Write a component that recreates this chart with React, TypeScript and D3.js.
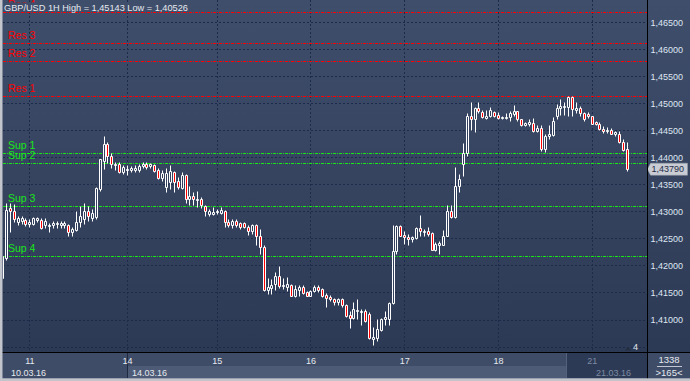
import React from "react";
import * as d3 from "d3";

const W = 690;
const H = 381;

const opens = [
  1.4177, 1.4214, 1.4306, 1.4301, 1.4281, 1.4282, 1.4284, 1.4276, 1.4277, 1.4284,
  1.4284, 1.4274, 1.4273, 1.4274, 1.4276, 1.4275, 1.4274, 1.4274, 1.4261, 1.4265,
  1.4280, 1.4286, 1.4301, 1.4288, 1.4289, 1.4342, 1.4394, 1.4425, 1.4403, 1.4386,
  1.4388, 1.4372, 1.4376, 1.4377, 1.4376, 1.4377, 1.4384, 1.4388, 1.4384, 1.4386,
  1.4376, 1.4361, 1.4345, 1.4354, 1.4372, 1.4357, 1.4343, 1.4367, 1.4322, 1.4328,
  1.4321, 1.4323, 1.4310, 1.4295, 1.4295, 1.4298, 1.4297, 1.4300, 1.4281, 1.4274,
  1.4282, 1.4279, 1.4279, 1.4271, 1.4264, 1.4275, 1.4254, 1.4234, 1.4155, 1.4159,
  1.4166, 1.4180, 1.4162, 1.4160, 1.4164, 1.4144, 1.4155, 1.4160, 1.4150, 1.4144,
  1.4153, 1.4160, 1.4157, 1.4145, 1.4142, 1.4138, 1.4132, 1.4138, 1.4127, 1.4108,
  1.4102, 1.4116, 1.4113, 1.4115, 1.4110, 1.4064, 1.4065, 1.4081, 1.4101, 1.4101,
  1.4130, 1.4226, 1.4273, 1.4256, 1.4252, 1.4249, 1.4250, 1.4269, 1.4261, 1.4263,
  1.4260, 1.4229, 1.4238, 1.4238, 1.4255, 1.4300, 1.4289, 1.4347, 1.4387, 1.4408,
  1.4476, 1.4470, 1.4491, 1.4483, 1.4473, 1.4477, 1.4483, 1.4478, 1.4472, 1.4472,
  1.4475, 1.4481, 1.4485, 1.4470, 1.4460, 1.4462, 1.4464, 1.4449, 1.4454, 1.4416,
  1.4440, 1.4441, 1.4477, 1.4491, 1.4493, 1.4493, 1.4512, 1.4488, 1.4491, 1.4482,
  1.4480, 1.4476, 1.4466, 1.4462, 1.4453, 1.4448, 1.4451, 1.4443, 1.4443, 1.4429,
  1.4416,
];

const closes = [
  1.4218, 1.4303, 1.4300, 1.4285, 1.4287, 1.4287, 1.4277, 1.4280, 1.4287, 1.4287,
  1.4270, 1.4282, 1.4275, 1.4279, 1.4279, 1.4279, 1.4279, 1.4261, 1.4268, 1.4280,
  1.4291, 1.4301, 1.4291, 1.4297, 1.4343, 1.4396, 1.4425, 1.4402, 1.4388, 1.4388,
  1.4372, 1.4383, 1.4379, 1.4380, 1.4380, 1.4384, 1.4388, 1.4382, 1.4387, 1.4375,
  1.4361, 1.4371, 1.4371, 1.4374, 1.4355, 1.4345, 1.4367, 1.4322, 1.4329, 1.4323,
  1.4323, 1.4311, 1.4300, 1.4301, 1.4298, 1.4301, 1.4303, 1.4280, 1.4274, 1.4282,
  1.4275, 1.4271, 1.4271, 1.4264, 1.4275, 1.4254, 1.4234, 1.4155, 1.4160, 1.4163,
  1.4180, 1.4162, 1.4164, 1.4166, 1.4144, 1.4157, 1.4160, 1.4149, 1.4144, 1.4153,
  1.4160, 1.4155, 1.4143, 1.4140, 1.4137, 1.4132, 1.4138, 1.4127, 1.4107, 1.4102,
  1.4120, 1.4118, 1.4116, 1.4098, 1.4065, 1.4067, 1.4083, 1.4101, 1.4104, 1.4131,
  1.4227, 1.4273, 1.4255, 1.4252, 1.4248, 1.4252, 1.4269, 1.4263, 1.4264, 1.4258,
  1.4229, 1.4240, 1.4242, 1.4255, 1.4300, 1.4289, 1.4347, 1.4359, 1.4408, 1.4476,
  1.4470, 1.4491, 1.4485, 1.4474, 1.4477, 1.4488, 1.4477, 1.4472, 1.4474, 1.4475,
  1.4482, 1.4486, 1.4470, 1.4459, 1.4464, 1.4465, 1.4449, 1.4454, 1.4416, 1.4440,
  1.4443, 1.4468, 1.4491, 1.4495, 1.4495, 1.4512, 1.4490, 1.4491, 1.4482, 1.4470,
  1.4476, 1.4462, 1.4462, 1.4453, 1.4448, 1.4451, 1.4444, 1.4446, 1.4428, 1.4414,
  1.4379,
];

const highs = [
  1.4221, 1.4316, 1.4316, 1.4314, 1.4292, 1.4292, 1.4288, 1.4285, 1.4290, 1.4290,
  1.4287, 1.4287, 1.4279, 1.4282, 1.4282, 1.4282, 1.4282, 1.4277, 1.4271, 1.4300,
  1.4310, 1.4316, 1.4310, 1.4305, 1.4345, 1.4397, 1.4439, 1.4428, 1.4408, 1.4391,
  1.4391, 1.4385, 1.4385, 1.4384, 1.4385, 1.4388, 1.4391, 1.4391, 1.4390, 1.4388,
  1.4380, 1.4377, 1.4380, 1.4386, 1.4375, 1.4363, 1.4372, 1.4369, 1.4347, 1.4335,
  1.4338, 1.4326, 1.4312, 1.4305, 1.4309, 1.4305, 1.4308, 1.4303, 1.4285, 1.4286,
  1.4285, 1.4281, 1.4280, 1.4274, 1.4277, 1.4277, 1.4268, 1.4238, 1.4176, 1.4175,
  1.4187, 1.4199, 1.4177, 1.4178, 1.4166, 1.4163, 1.4163, 1.4163, 1.4153, 1.4155,
  1.4163, 1.4163, 1.4159, 1.4149, 1.4145, 1.4139, 1.4139, 1.4139, 1.4129, 1.4116,
  1.4133, 1.4137, 1.4120, 1.4120, 1.4113, 1.4086, 1.4101, 1.4102, 1.4115, 1.4132,
  1.4275, 1.4275, 1.4274, 1.4263, 1.4258, 1.4255, 1.4271, 1.4293, 1.4268, 1.4271,
  1.4261, 1.4243, 1.4246, 1.4266, 1.4311, 1.4311, 1.4382, 1.4369, 1.4427, 1.4482,
  1.4503, 1.4493, 1.4503, 1.4488, 1.4488, 1.4493, 1.4486, 1.4483, 1.4477, 1.4482,
  1.4486, 1.4497, 1.4486, 1.4471, 1.4466, 1.4470, 1.4472, 1.4459, 1.4460, 1.4443,
  1.4459, 1.4474, 1.4499, 1.4508, 1.4502, 1.45143, 1.45143, 1.4503, 1.4495, 1.4483,
  1.4483, 1.4477, 1.4468, 1.4465, 1.4458, 1.4456, 1.4454, 1.4449, 1.4449, 1.4433,
  1.4428,
];

const lows = [
  1.4171, 1.4210, 1.4262, 1.4280, 1.4275, 1.4277, 1.4273, 1.4272, 1.4274, 1.4281,
  1.4268, 1.4269, 1.4262, 1.4270, 1.4270, 1.4270, 1.4269, 1.4254, 1.4254, 1.4264,
  1.4272, 1.4276, 1.4282, 1.4282, 1.4286, 1.4338, 1.4378, 1.4389, 1.4380, 1.4377,
  1.4371, 1.4370, 1.4368, 1.4372, 1.4372, 1.4372, 1.4380, 1.4378, 1.4380, 1.4372,
  1.4360, 1.4357, 1.4336, 1.4341, 1.4336, 1.4341, 1.4341, 1.4316, 1.4312, 1.4311,
  1.4308, 1.4306, 1.4292, 1.4292, 1.4293, 1.4295, 1.4295, 1.4271, 1.4272, 1.4270,
  1.4272, 1.4267, 1.4269, 1.4257, 1.4259, 1.4238, 1.4221, 1.4153, 1.4147, 1.4147,
  1.4155, 1.4159, 1.4156, 1.4153, 1.4143, 1.4141, 1.4143, 1.4147, 1.4143, 1.4143,
  1.4151, 1.4151, 1.4141, 1.4124, 1.4135, 1.4126, 1.4126, 1.4123, 1.4104, 1.4084,
  1.4101, 1.4101, 1.4090, 1.4096, 1.4064, 1.40526, 1.4061, 1.4079, 1.4089, 1.4089,
  1.4129, 1.4221, 1.4254, 1.4240, 1.4238, 1.4243, 1.4249, 1.4255, 1.4255, 1.4255,
  1.4229, 1.4227, 1.4221, 1.4237, 1.4254, 1.4287, 1.4287, 1.4335, 1.4365, 1.4403,
  1.4451, 1.4446, 1.4482, 1.4472, 1.4470, 1.4474, 1.4474, 1.4471, 1.4470, 1.4470,
  1.4468, 1.4477, 1.4468, 1.4458, 1.4458, 1.4458, 1.4446, 1.4446, 1.4412, 1.4409,
  1.4434, 1.4440, 1.4471, 1.4478, 1.4478, 1.4477, 1.4476, 1.4482, 1.4477, 1.4468,
  1.4472, 1.4461, 1.4460, 1.4451, 1.4445, 1.4445, 1.4443, 1.4440, 1.4427, 1.4412,
  1.4375,
];

const levelNames = ["Res 4", "Res 3", "Res 2", "Res 1", "Sup 1", "Sup 2", "Sup 3", "Sup 4"];
const levelValues = [1.46692, 1.46119, 1.45779, 1.45143, 1.44084, 1.43899, 1.43104, 1.42171];

const priceTicks = [1.41, 1.415, 1.42, 1.425, 1.43, 1.435, 1.44, 1.445, 1.45, 1.455, 1.46, 1.465];
const gridTicks = [1.405, 1.41, 1.415, 1.42, 1.425, 1.43, 1.435, 1.44, 1.445, 1.45, 1.455, 1.46, 1.465];

const dayLabels = ["11", "14", "15", "16", "17", "18", "21"];
const dayBars = [7, 32, 55, 79, 103, 127, 151];

const titleText = "GBP/USD 1H High = 1,45143 Low = 1,40526";
const lastPrice = 1.4379;
const totalBars = "1338";
const visibleBars = ">165<";
const shiftCount = "4";
const dateLeft = "10.03.16";
const dateMid = "14.03.16";
const dateRight = "21.03.16";

const FONT = "'Liberation Sans', Arial, sans-serif";

export default function App() {
  const x = d3.scaleLinear().domain([0, opens.length - 1]).range([2.5, 627.3]);
  const y = d3.scaleLinear().domain([1.41, 1.465]).range([320, 22.7]);
  const px = (v: number) => Math.floor(v) + 0.5;
  const fmt = (v: number) => d3.format(".5f")(v).replace(".", ",");

  const plotL = 3;
  const plotR = 647;
  const plotB = 352;

  const candles = opens.map((o, i) => {
    const c = closes[i];
    const cx = px(x(i));
    const top = px(y(Math.max(o, c)));
    const bot = px(y(Math.min(o, c)));
    const hy = px(y(highs[i]));
    const ly = px(y(lows[i]));
    const up = c >= o;
    return (
      <g key={i}>
        <line x1={cx} x2={cx} y1={hy} y2={ly} stroke="#ffffff" strokeWidth={1} />
        <path
          d={`M${cx - 1},${top}H${cx + 1}V${bot}H${cx - 1}Z`}
          fill={up ? "#33415e" : "#ff0000"}
          stroke="#ffffff"
          strokeWidth={1}
        />
      </g>
    );
  });

  const lastY = y(lastPrice);

  return (
    <svg
      width={W}
      height={H}
      style={{ position: "absolute", left: 0, top: 0, display: "block" }}
      fontFamily={FONT}
    >
      <defs>
        <linearGradient id="bg" x1="0" y1="0" x2="0" y2="1">
          <stop offset="0" stopColor="#3f4e6b" />
          <stop offset="1" stopColor="#2b3853" />
        </linearGradient>
        <clipPath id="plotClip">
          <rect x={plotL} y={0} width={plotR - plotL} height={plotB} />
        </clipPath>
      </defs>

      {/* backgrounds */}
      <rect x={0} y={0} width={W} height={H} fill="url(#bg)" />
      <rect x={0} y={plotB} width={W} height={H - plotB} fill="#3e4c67" />
      <rect x={128} y={366} width={438} height={12} fill="#4d5b77" />
      <rect x={566} y={plotB} width={plotR - 566} height={26} fill="#2d3a55" />
      <line x1={566.5} x2={566.5} y1={plotB} y2={378} stroke="#56627c" />
      <line x1={127.5} x2={127.5} y1={plotB} y2={378} stroke="#1e2a40" />

      <g clipPath="url(#plotClip)">
        {/* grid */}
        {gridTicks.map((t) => (
          <line
            key={"g" + t}
            x1={plotL}
            x2={plotR}
            y1={px(y(t))}
            y2={px(y(t))}
            stroke="#1c2b4a"
            strokeDasharray="2,2"
          />
        ))}
        {dayBars.map((b) => (
          <line
            key={"v" + b}
            x1={px(x(b))}
            x2={px(x(b))}
            y1={0}
            y2={plotB}
            stroke="#1c2b4a"
            strokeDasharray="2,2"
          />
        ))}

        {/* levels */}
        {levelValues.map((v, i) => (
          <line
            key={"l" + i}
            x1={plotL}
            x2={plotR}
            y1={px(y(v))}
            y2={px(y(v))}
            stroke={levelNames[i].startsWith("Res") ? "#ff0000" : "#19e619"}
            strokeDasharray="3,1,1,1"
          />
        ))}
        {levelValues.map((v, i) => (
          <text
            key={"lt" + i}
            x={8}
            y={y(v) - 4.5}
            fontSize={10.5}
            fill={levelNames[i].startsWith("Res") ? "#ff0000" : "#19e619"}
          >
            {levelNames[i]}
          </text>
        ))}

        {candles}

        {/* title */}
        <rect x={3} y={2.5} width={186} height={9.3} fill="#3f4e6b" />
        <text x={4} y={10.6} fontSize={9.2} fill="#e6eaf0">
          {titleText}
        </text>

        {/* shift marker */}
        <path d="M625,350.5L628,347L631,350.5Z" fill="#262f40" />
        <text x={633} y={350} fontSize={9} fill="#e6eaf0">
          {shiftCount}
        </text>
      </g>

      {/* price axis labels */}
      {priceTicks.map((t) => (
        <text key={"p" + t} x={650.5} y={y(t) + 3.3} fontSize={9} fill="#dfe6f2">
          {fmt(t)}
        </text>
      ))}

      {/* current price marker */}
      <path
        d={`M647.5,${lastY}L650.5,${lastY - 6}H687.5V${lastY + 6}H650.5Z`}
        fill="#c9cdd3"
        stroke="#9aa0aa"
        strokeWidth={0.5}
      />
      <text x={651.5} y={lastY + 3.3} fontSize={9} fill="#1f2c48">
        {fmt(lastPrice)}
      </text>

      {/* day labels */}
      {dayLabels.map((d, i) => (
        <text
          key={"d" + d}
          x={x(dayBars[i])}
          y={364}
          fontSize={9}
          textAnchor="middle"
          fill={d === "21" ? "#7d8aa2" : "#e6eaf0"}
        >
          {d}
        </text>
      ))}
      <text x={11} y={375.5} fontSize={9} fill="#e6eaf0">
        {dateLeft}
      </text>
      <text x={132} y={375.5} fontSize={9} fill="#e6eaf0">
        {dateMid}
      </text>
      <text x={596} y={375.5} fontSize={9} fill="#7d8aa2">
        {dateRight}
      </text>

      {/* bottom-right counter */}
      <text x={669} y={363} fontSize={9.5} textAnchor="middle" fill="#e6eaf0">
        {totalBars}
      </text>
      <line x1={657} x2={682} y1={366.5} y2={366.5} stroke="#c0c6d2" />
      <text x={669} y={376} fontSize={9.5} textAnchor="middle" fill="#e6eaf0">
        {visibleBars}
      </text>

      {/* frame lines */}
      <line x1={plotR + 0.5} x2={plotR + 0.5} y1={0} y2={H} stroke="#000000" />
      <line x1={0} x2={W} y1={plotB + 0.5} y2={plotB + 0.5} stroke="#000000" />
      <rect x={0} y={0} width={2.5} height={H} fill="#c2c6cc" />
      <rect x={0} y={378.3} width={W} height={2.7} fill="#c2c6cc" />
    </svg>
  );
}
